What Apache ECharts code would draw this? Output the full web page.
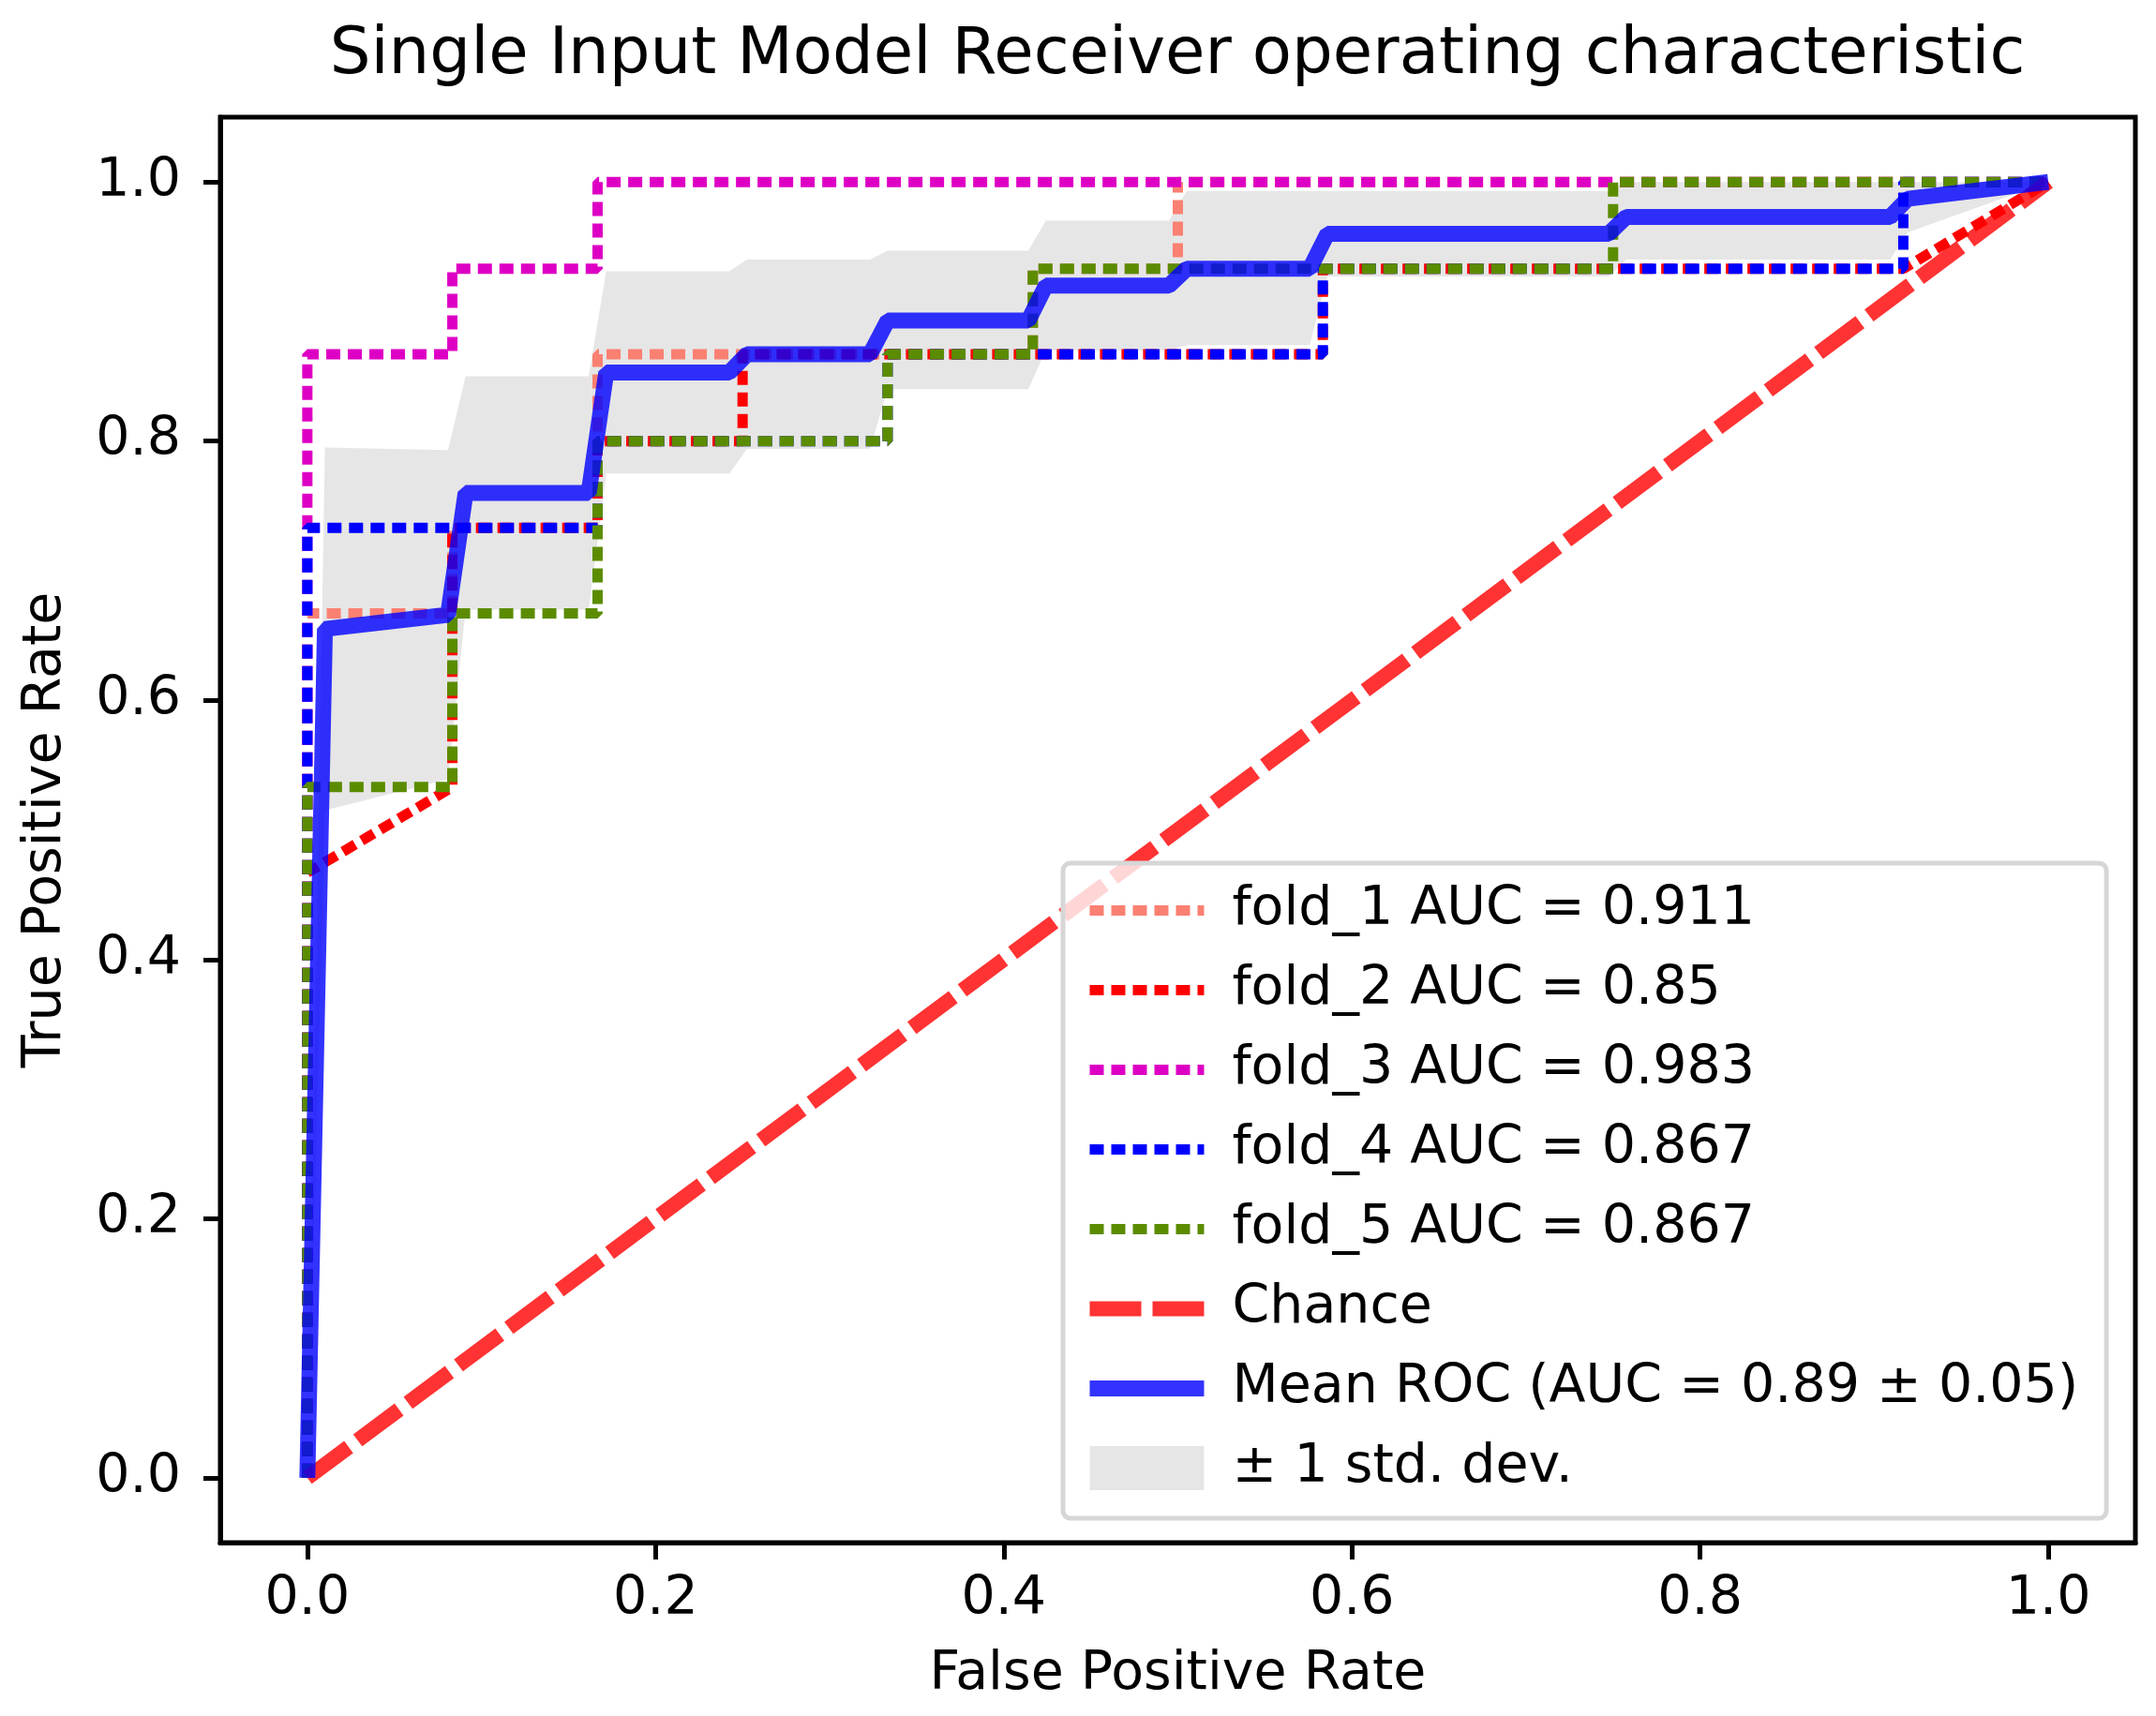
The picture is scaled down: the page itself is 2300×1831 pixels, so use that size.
<!DOCTYPE html>
<html><head><meta charset="utf-8">
<script src="https://cdn.jsdelivr.net/npm/echarts@6/dist/echarts.min.js"></script>
<style>html,body{margin:0;padding:0;background:#fff}#chart{width:2300px;height:1831px}</style>
</head><body><div id="chart"></div>
<script>
const titleText = 'Single Input Model Receiver operating characteristic';
const xAxisName = 'False Positive Rate';
const yAxisName = 'True Positive Rate';
const tickValues = [0, 0.2, 0.4, 0.6, 0.8, 1.0];
const tickLabels = ['0.0', '0.2', '0.4', '0.6', '0.8', '1.0'];
const seriesNames = ['fold_1 AUC = 0.911', 'fold_2 AUC = 0.85', 'fold_3 AUC = 0.983', 'fold_4 AUC = 0.867', 'fold_5 AUC = 0.867', 'Chance', 'Mean ROC (AUC = 0.89 \u00b1 0.05)', '\u00b1 1 std. dev.'];

const fold1Fpr = [0, 0, 0.0833, 0.0833, 0.1667, 0.1667, 0.4167, 0.4167, 0.5, 0.5, 1];
const fold1Tpr = [0, 0.667, 0.667, 0.733, 0.733, 0.867, 0.867, 0.933, 0.933, 1, 1];
const fold2Fpr = [0, 0, 0.0833, 0.0833, 0.1667, 0.1667, 0.25, 0.25, 0.5833, 0.5833, 0.9167, 1];
const fold2Tpr = [0, 0.467, 0.533, 0.733, 0.733, 0.8, 0.8, 0.867, 0.867, 0.933, 0.933, 1];
const fold3Fpr = [0, 0, 0.0833, 0.0833, 0.1667, 0.1667, 1];
const fold3Tpr = [0, 0.867, 0.867, 0.933, 0.933, 1, 1];
const fold4Fpr = [0, 0, 0.1667, 0.1667, 0.3333, 0.3333, 0.5833, 0.5833, 0.9167, 0.9167, 1];
const fold4Tpr = [0, 0.733, 0.733, 0.8, 0.8, 0.867, 0.867, 0.933, 0.933, 1, 1];
const fold5Fpr = [0, 0, 0.0833, 0.0833, 0.1667, 0.1667, 0.3333, 0.3333, 0.4167, 0.4167, 0.75, 0.75, 1];
const fold5Tpr = [0, 0.533, 0.533, 0.667, 0.667, 0.8, 0.8, 0.867, 0.867, 0.933, 0.933, 1, 1];
const chanceFpr = [0, 1];
const chanceTpr = [0, 1];
const meanFpr = [0, 0.0101, 0.0808, 0.0909, 0.1616, 0.1717, 0.2424, 0.2525, 0.3232, 0.3333, 0.4141, 0.4242, 0.4949, 0.5051, 0.5758, 0.5859, 0.7475, 0.7576, 0.9091, 0.9192, 1];
const meanTpr = [0, 0.655, 0.666, 0.76, 0.76, 0.853, 0.853, 0.867, 0.867, 0.893, 0.893, 0.92, 0.92, 0.933, 0.933, 0.96, 0.96, 0.973, 0.973, 0.987, 1];
const bandUpper = [0, 0.795, 0.793, 0.85, 0.85, 0.931, 0.931, 0.94, 0.94, 0.947, 0.947, 0.97, 0.97, 0.993, 0.993, 0.993, 0.993, 1, 1, 1, 1];
const bandLower = [0, 0.515, 0.539, 0.67, 0.67, 0.775, 0.775, 0.794, 0.794, 0.84, 0.84, 0.87, 0.87, 0.874, 0.874, 0.927, 0.927, 0.94, 0.94, 0.961, 1];

const FONT = 'DejaVu Sans';
const zip = (a, b) => a.map((v, i) => [v, b[i]]);
const foldColors = ['#FA8072', '#FF0000', '#DD00C4', '#0000FF', '#5B8C00'];
const foldData = [zip(fold1Fpr, fold1Tpr), zip(fold2Fpr, fold2Tpr), zip(fold3Fpr, fold3Tpr), zip(fold4Fpr, fold4Tpr), zip(fold5Fpr, fold5Tpr)];

const series = foldData.map((d, i) => ({
  type: 'line', name: seriesNames[i], data: d, symbol: 'none', silent: true,
  color: foldColors[i],
  lineStyle: { width: 11, type: [15, 8], color: foldColors[i] }
}));
series.push({
  type: 'line', name: seriesNames[5], data: zip(chanceFpr, chanceTpr), symbol: 'none', silent: true,
  color: 'rgba(255,0,0,0.8)',
  lineStyle: { width: 16, type: [55, 12], color: 'rgba(255,0,0,0.8)' }
});
series.push({
  type: 'line', name: seriesNames[6], data: zip(meanFpr, meanTpr), symbol: 'none', silent: true,
  color: 'rgba(0,0,255,0.8)',
  lineStyle: { width: 17, color: 'rgba(0,0,255,0.8)' }
});
series.push({
  type: 'custom', name: seriesNames[7], coordinateSystem: 'cartesian2d', silent: true,
  itemStyle: { color: 'rgba(128,128,128,0.2)' },
  data: [[0, 0]],
  renderItem: function (params, api) {
    const pts = [];
    for (let i = 0; i < meanFpr.length; i++) pts.push(api.coord([meanFpr[i], bandUpper[i]]));
    for (let i = meanFpr.length - 1; i >= 0; i--) pts.push(api.coord([meanFpr[i], bandLower[i]]));
    return { type: 'polygon', shape: { points: pts }, style: { fill: 'rgba(128,128,128,0.2)' } };
  }
});

const axisCommon = {
  type: 'value', min: -0.05, max: 1.05,
  nameLocation: 'middle',
  nameTextStyle: { fontSize: 57, fontFamily: FONT, color: '#000' },
  axisLine: { show: true, onZero: false, lineStyle: { color: '#000', width: 5 } },
  axisTick: { show: true, inside: false, length: 18, lineStyle: { color: '#000', width: 5 }, customValues: tickValues },
  axisLabel: {
    fontSize: 57, fontFamily: FONT, color: '#000', customValues: tickValues,
    formatter: v => { const k = tickValues.findIndex(t => Math.abs(t - v) < 1e-9); return k >= 0 ? tickLabels[k] : ''; }
  },
  splitLine: { show: false }
};

const option = {
  animation: false,
  backgroundColor: '#fff',
  title: {
    text: titleText, left: 1256, top: 26, textAlign: 'center', padding: 0,
    textStyle: { fontSize: 69, fontWeight: 'normal', fontFamily: FONT, color: '#000' }
  },
  grid: { left: 235, right: 22, top: 125, bottom: 185, show: true, borderColor: '#000', borderWidth: 5, containLabel: false },
  xAxis: Object.assign({}, axisCommon, { name: xAxisName, nameGap: 113, axisLabel: Object.assign({}, axisCommon.axisLabel, { margin: 33 }) }),
  yAxis: Object.assign({}, axisCommon, { name: yAxisName, nameGap: 157, axisLabel: Object.assign({}, axisCommon.axisLabel, { margin: 42 }) }),
  legend: {
    orient: 'vertical', left: 1134, top: 921,
    padding: [22, 30, 25, 20], itemGap: 28, itemWidth: 122, itemHeight: 47,
    backgroundColor: 'rgba(255,255,255,0.8)', borderColor: '#d6d6d6', borderWidth: 5, borderRadius: 8,
    selectedMode: false,
    textStyle: { fontSize: 57, fontFamily: FONT, color: '#000', lineHeight: 47, padding: [0, 0, 0, 25] },
    itemStyle: { opacity: 0 },
    lineStyle: { width: 'inherit', type: 'inherit', color: 'inherit', opacity: 'inherit' },
    data: seriesNames.slice(0, 7).map(n => ({ name: n })).concat([{ name: seriesNames[7], icon: 'rect', itemStyle: { opacity: 1 } }])
  },
  series: series
};

const chart = echarts.init(document.getElementById('chart'), null, { renderer: 'canvas' });
chart.setOption(option);
</script>
</body></html>
